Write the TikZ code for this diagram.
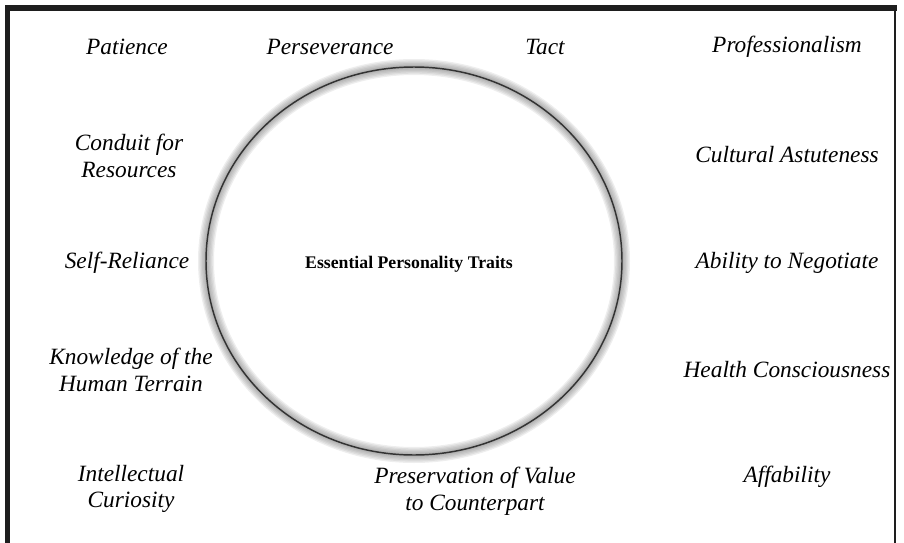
\documentclass[tikz,border=0pt]{standalone}
\usepackage{fontspec}
\setmainfont{Liberation Serif}
\usetikzlibrary{positioning}
\definecolor{framegray}{HTML}{1E1E1E}
\definecolor{glow}{HTML}{707070}

\begin{document}
\begin{tikzpicture}[
    x=0.75pt, y=-0.75pt,
    trait/.style={align=center, inner sep=0pt, font=\fontsize{17.5}{20}\selectfont\itshape},
    core/.style={align=center, inner sep=0pt, font=\fontsize{13.3}{16}\selectfont\bfseries},
    halo/.style={draw=glow, line width=#1, draw opacity=0.12}
  ]
    \useasboundingbox (0,0) rectangle (904,543);

    % Frame
    \draw[framegray, line width=4.5pt] (5,8) -- (897,8);
    \draw[framegray, line width=3.8pt] (7.5,5) -- (7.5,543);
    \draw[framegray, line width=1.5pt] (895,8) -- (895,543);

    % Ellipse with soft shadow
    \foreach \w in {12,10,8,6,4,2.5}
      \draw[halo=\w] (414,261) ellipse (208 and 194);
    \draw[black!80, line width=1.1pt] (414,261) ellipse (208 and 194);
    \node[core] (center) at (409,264) {Essential Personality Traits};

    % Left column
    \node[trait] (patience) at (127,47) {Patience};
    \node[trait] (conduit) at (129,156) {Conduit for\\Resources};
    \node[trait] (selfrel) at (127,263) {Self-Reliance};
    \node[trait] (knowledge) at (131,370) {Knowledge of the\\Human Terrain};
    \node[trait] (curiosity) at (131,489) {Intellectual\\Curiosity};

    % Top and bottom
    \node[trait] (persev) at (330,47) {Perseverance};
    \node[trait] (tact) at (545,47) {Tact};
    \node[trait] (preserve) at (475,491) {Preservation of Value\\to Counterpart};

    % Right column
    \node[trait] (profess) at (787,47) {Professionalism};
    \node[trait] (cultural) at (787,155) {Cultural Astuteness};
    \node[trait] (negotiate) at (787,263) {Ability to Negotiate};
    \node[trait] (health) at (787,370) {Health Consciousness};
    \node[trait] (affable) at (787,477) {Affability};
  \end{tikzpicture}
\end{document}
